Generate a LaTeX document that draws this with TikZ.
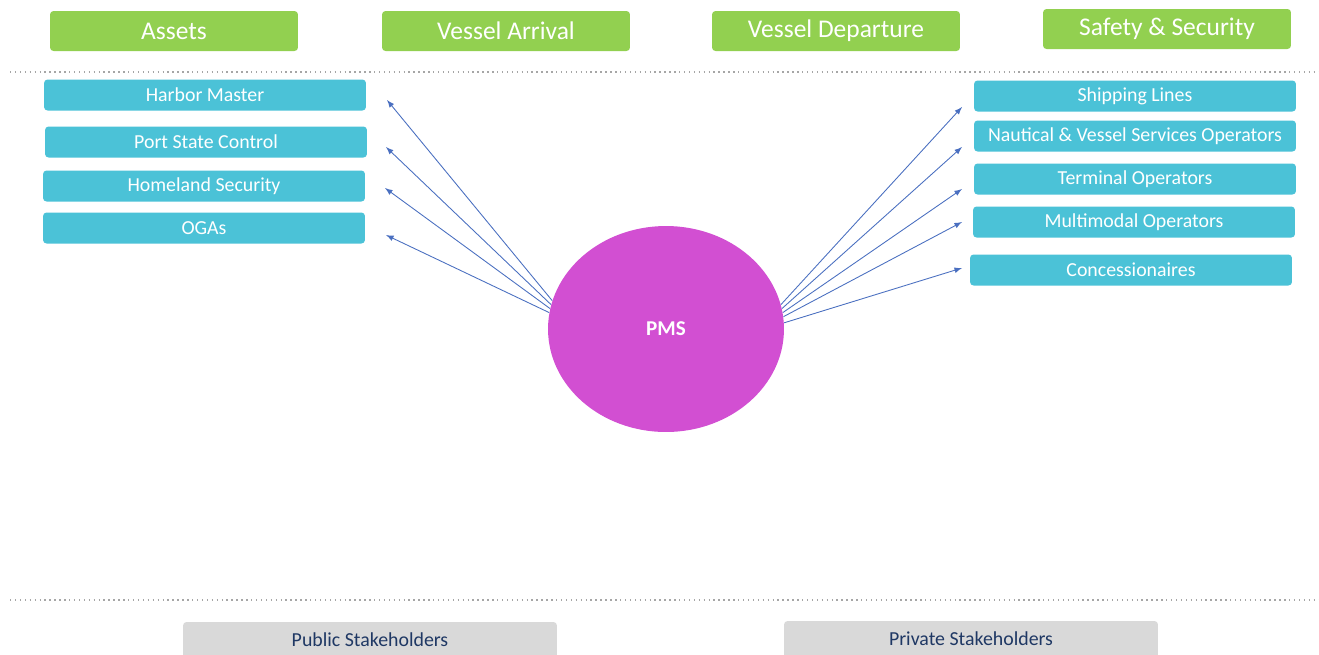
\documentclass[tikz,border=0pt]{standalone}
\usepackage{fontspec}
\setmainfont{Carlito}
\usepackage{xcolor}
\usepackage{tikz}
\usetikzlibrary{arrows,shapes}
\definecolor{topgreen}{HTML}{92D050}
\definecolor{boxcyan}{HTML}{4BC2D7}
\definecolor{pmspink}{HTML}{D24FD2}
\definecolor{linkblue}{HTML}{4A6FC0}
\definecolor{footgray}{HTML}{D9D9D9}
\definecolor{foottext}{HTML}{1F3864}
\tikzstyle{topic}=[rectangle,rounded corners=2pt,fill=topgreen,text=white,minimum width=4.96cm,minimum height=0.8cm,font=\fontsize{14.5}{16}\selectfont]
\tikzstyle{actor}=[rectangle,rounded corners=2pt,fill=boxcyan,text=white,minimum width=6.44cm,minimum height=0.62cm,inner sep=0pt,font=\fontsize{11.3}{13}\selectfont]
\tikzstyle{group}=[rectangle,rounded corners=2pt,fill=footgray,text=foottext,minimum width=7.48cm,minimum height=0.8cm,font=\fontsize{11.3}{13}\selectfont]
\tikzstyle{hub}=[ellipse,fill=pmspink,text=white,minimum width=4.72cm,minimum height=4.12cm,inner sep=0pt,font=\fontsize{12}{14}\selectfont\bfseries]
\tikzstyle{link}=[->,>=latex,draw=linkblue,line width=0.5pt]
\tikzstyle{divider}=[draw=gray!70,dotted,line width=0.8pt]

\begin{document}
\begin{tikzpicture}[x=0.02cm,y=-0.02cm]
        \useasboundingbox (0,0) rectangle (1319,654);

        \node at (174,31)  [topic] (assets)    {Assets};
        \node at (506,31)  [topic] (arrival)   {Vessel Arrival};
        \node at (836,31)  [topic] (departure) {Vessel Departure};
        \node at (1167,29) [topic] (safety)    {Safety \& Security};

        \draw [divider] (10,72) -- (1319,72);

        \node at (205,95)  [actor] (harbor)   {Harbor Master};
        \node at (206,142) [actor] (psc)      {Port State Control};
        \node at (204,186) [actor] (homeland) {Homeland Security};
        \node at (204,228) [actor] (ogas)     {OGAs};

        \node at (1135,96)  [actor] (shipping)   {Shipping Lines};
        \node at (1135,136) [actor] (nautical)   {Nautical \& Vessel Services Operators};
        \node at (1135,179) [actor] (terminal)   {Terminal Operators};
        \node at (1134,222) [actor] (multimodal) {Multimodal Operators};
        \node at (1131,270) [actor] (concess)    {Concessionaires};

        \node at (666,329) [hub] (pms) {PMS};

        % arrow tips stop short of the boxes
        \coordinate (harbor-in)   at (387,100);
        \coordinate (psc-in)      at (386,147);
        \coordinate (homeland-in) at (385,188);
        \coordinate (ogas-in)     at (386,235);
        \coordinate (shipping-in)   at (962,107);
        \coordinate (nautical-in)   at (962,147);
        \coordinate (terminal-in)   at (962,189);
        \coordinate (multimodal-in) at (962,222);
        \coordinate (concess-in)    at (962,268);

        \draw [link] (pms.166.5) -- (harbor-in);
        \draw [link] (pms.168.5) -- (psc-in);
        \draw [link] (pms.170.5) -- (homeland-in);
        \draw [link] (pms.172) -- (ogas-in);
        \draw [link] (pms.12.5) -- (shipping-in);
        \draw [link] (pms.10.5) -- (nautical-in);
        \draw [link] (pms.8) -- (terminal-in);
        \draw [link] (pms.6) -- (multimodal-in);
        \draw [link] (pms.3.5) -- (concess-in);

        \draw [divider] (10,600) -- (1319,600);

        \node at (370,642) [group] (public)  {\raisebox{3pt}{Public Stakeholders}};
        \node at (971,641) [group] (private) {\raisebox{3pt}{Private Stakeholders}};
      \end{tikzpicture}
\end{document}
